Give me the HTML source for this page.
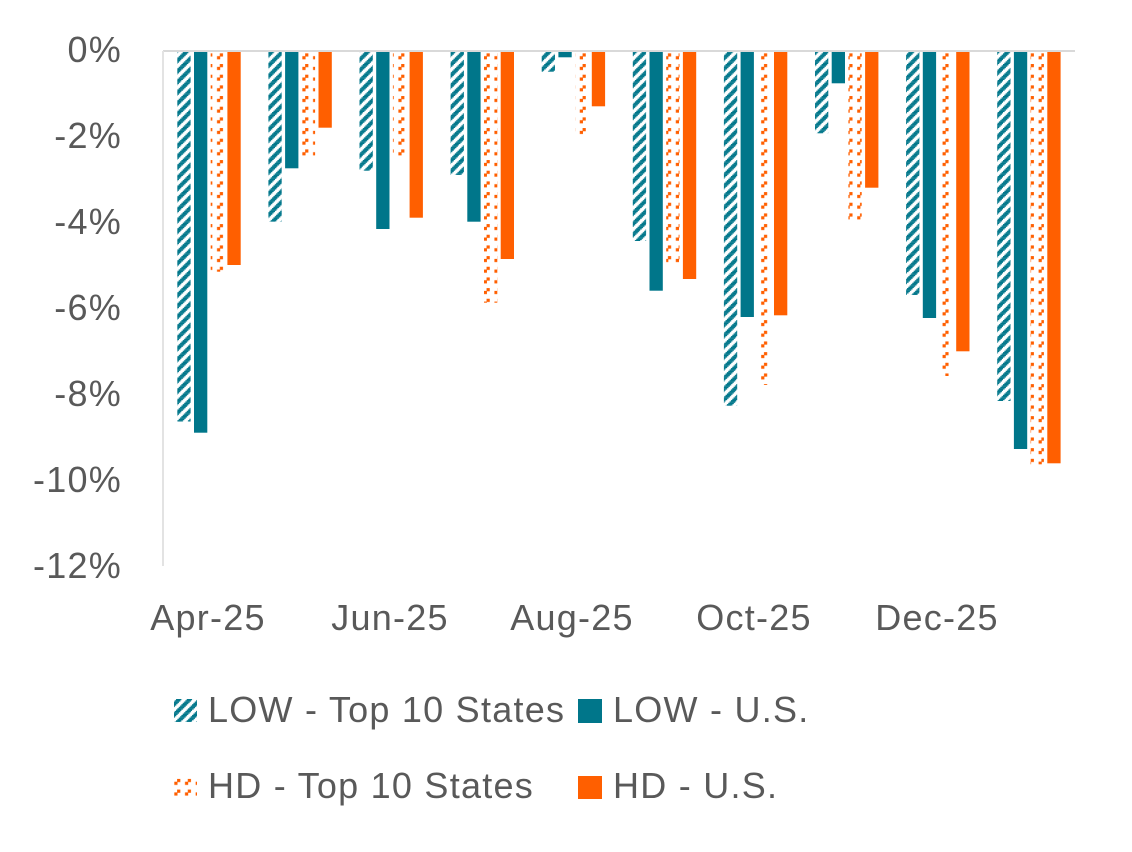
<!DOCTYPE html>
<html>
<head>
<meta charset="utf-8">
<style>
  html,body{margin:0;padding:0;background:#fff;}
  svg{display:block;}
  text{font-family:"Liberation Sans",Arial,sans-serif;fill:#595959;font-size:36px;letter-spacing:1.25px;}
</style>
</head>
<body>
<svg width="1132" height="852" viewBox="0 0 1132 852" xmlns="http://www.w3.org/2000/svg">
  <defs>
    <pattern id="lowHatch" patternUnits="userSpaceOnUse" width="10.67" height="10.67" x="0" y="0">
      <rect x="0" y="0" width="10.67" height="10.67" fill="#fff"/>
      <rect x="0" y="0" width="5.6" height="1.4" fill="#00768A"/>
      <rect x="9.33" y="1.33" width="5.6" height="1.4" fill="#00768A"/>
      <rect x="-1.34" y="1.33" width="5.6" height="1.4" fill="#00768A"/>
      <rect x="8" y="2.67" width="5.6" height="1.4" fill="#00768A"/>
      <rect x="-2.67" y="2.67" width="5.6" height="1.4" fill="#00768A"/>
      <rect x="6.67" y="4" width="5.6" height="1.4" fill="#00768A"/>
      <rect x="-4" y="4" width="5.6" height="1.4" fill="#00768A"/>
      <rect x="5.33" y="5.33" width="5.6" height="1.4" fill="#00768A"/>
      <rect x="4" y="6.67" width="5.6" height="1.4" fill="#00768A"/>
      <rect x="2.67" y="8" width="5.6" height="1.4" fill="#00768A"/>
      <rect x="1.33" y="9.33" width="5.6" height="1.4" fill="#00768A"/>
      <rect x="12" y="9.33" width="5.6" height="1.4" fill="#00768A"/>
    </pattern>
    <pattern id="hdHatch" patternUnits="userSpaceOnUse" width="10.67" height="10.67" x="0" y="0">
      <rect x="0" y="0" width="10.67" height="10.67" fill="#fff"/>
      <rect x="6.4" y="0" width="3.2" height="3.2" fill="#FF5F00"/>
      <rect x="3.6" y="2.8" width="3.2" height="3.2" fill="#FF5F00"/>
    </pattern>
  </defs>

  <!-- axes -->
  <line x1="163" y1="51" x2="1075" y2="51" stroke="#d9d9d9" stroke-width="2"/>
  <line x1="163" y1="51" x2="163" y2="566" stroke="#e3e3e3" stroke-width="2"/>

  <!-- y labels -->
  <g text-anchor="end">
    <text x="122" y="62">0%</text>
    <text x="122" y="148">-2%</text>
    <text x="122" y="234">-4%</text>
    <text x="122" y="320">-6%</text>
    <text x="122" y="406">-8%</text>
    <text x="122" y="492">-10%</text>
    <text x="122" y="578">-12%</text>
  </g>

  <g>
    <!-- G1 -->
    <rect x="177.3" y="52" width="13.3" height="369.5" fill="url(#lowHatch)"/>
    <rect x="194.0" y="52" width="13.3" height="380.7" fill="#00768A"/>
    <rect x="210.7" y="52" width="13.3" height="219.7" fill="url(#hdHatch)"/>
    <rect x="227.4" y="52" width="13.3" height="213" fill="#FF5F00"/>
    <!-- G2 -->
    <rect x="268.4" y="52" width="13.3" height="169.7" fill="url(#lowHatch)"/>
    <rect x="285.1" y="52" width="13.3" height="116.3" fill="#00768A"/>
    <rect x="301.8" y="52" width="13.3" height="104" fill="url(#hdHatch)"/>
    <rect x="318.5" y="52" width="13.3" height="75.7" fill="#FF5F00"/>
    <!-- G3 -->
    <rect x="359.5" y="52" width="13.3" height="118.7" fill="url(#lowHatch)"/>
    <rect x="376.2" y="52" width="13.3" height="177" fill="#00768A"/>
    <rect x="392.9" y="52" width="13.3" height="104" fill="url(#hdHatch)"/>
    <rect x="409.6" y="52" width="13.3" height="165.7" fill="#FF5F00"/>
    <!-- G4 -->
    <rect x="450.6" y="52" width="13.3" height="123" fill="url(#lowHatch)"/>
    <rect x="467.3" y="52" width="13.3" height="169.7" fill="#00768A"/>
    <rect x="484.0" y="52" width="13.3" height="250.7" fill="url(#hdHatch)"/>
    <rect x="500.7" y="52" width="13.3" height="207" fill="#FF5F00"/>
    <!-- G5 -->
    <rect x="541.7" y="52" width="13.3" height="19.7" fill="url(#lowHatch)"/>
    <rect x="558.4" y="52" width="13.3" height="5.3" fill="#00768A"/>
    <rect x="575.1" y="52" width="13.3" height="82.3" fill="url(#hdHatch)"/>
    <rect x="591.8" y="52" width="13.3" height="54.3" fill="#FF5F00"/>
    <!-- G6 -->
    <rect x="632.8" y="52" width="13.3" height="189" fill="url(#lowHatch)"/>
    <rect x="649.5" y="52" width="13.3" height="238.7" fill="#00768A"/>
    <rect x="666.2" y="52" width="13.3" height="212" fill="url(#hdHatch)"/>
    <rect x="682.9" y="52" width="13.3" height="227" fill="#FF5F00"/>
    <!-- G7 -->
    <rect x="723.9" y="52" width="13.3" height="353.7" fill="url(#lowHatch)"/>
    <rect x="740.6" y="52" width="13.3" height="265" fill="#00768A"/>
    <rect x="757.3" y="52" width="13.3" height="333" fill="url(#hdHatch)"/>
    <rect x="774.0" y="52" width="13.3" height="263.3" fill="#FF5F00"/>
    <!-- G8 -->
    <rect x="815.0" y="52" width="13.3" height="81.3" fill="url(#lowHatch)"/>
    <rect x="831.7" y="52" width="13.3" height="31.3" fill="#00768A"/>
    <rect x="848.4" y="52" width="13.3" height="170.7" fill="url(#hdHatch)"/>
    <rect x="865.1" y="52" width="13.3" height="135.7" fill="#FF5F00"/>
    <!-- G9 -->
    <rect x="906.1" y="52" width="13.3" height="243" fill="url(#lowHatch)"/>
    <rect x="922.8" y="52" width="13.3" height="266" fill="#00768A"/>
    <rect x="939.5" y="52" width="13.3" height="324" fill="url(#hdHatch)"/>
    <rect x="956.2" y="52" width="13.3" height="299.3" fill="#FF5F00"/>
    <!-- G10 -->
    <rect x="997.2" y="52" width="13.3" height="349" fill="url(#lowHatch)"/>
    <rect x="1013.9" y="52" width="13.3" height="397" fill="#00768A"/>
    <rect x="1030.6" y="52" width="13.3" height="412.3" fill="url(#hdHatch)"/>
    <rect x="1047.3" y="52" width="13.3" height="411.3" fill="#FF5F00"/>
  </g>

  <!-- x labels -->
  <g text-anchor="middle">
    <text x="208" y="630">Apr-25</text>
    <text x="390" y="630">Jun-25</text>
    <text x="572" y="630">Aug-25</text>
    <text x="754" y="630">Oct-25</text>
    <text x="937" y="630">Dec-25</text>
  </g>

  <!-- legend -->
  <rect x="174" y="699" width="23" height="23" fill="url(#lowHatch)"/>
  <text x="208" y="722">LOW - Top 10 States</text>
  <rect x="578" y="699" width="24" height="24" fill="#00768A"/>
  <text x="613" y="722">LOW - U.S.</text>
  <rect x="174" y="776" width="23" height="23" fill="url(#hdHatch)"/>
  <text x="208" y="798">HD - Top 10 States</text>
  <rect x="578" y="776" width="24" height="23" fill="#FF5F00"/>
  <text x="613" y="798">HD - U.S.</text>
</svg>
</body>
</html>
